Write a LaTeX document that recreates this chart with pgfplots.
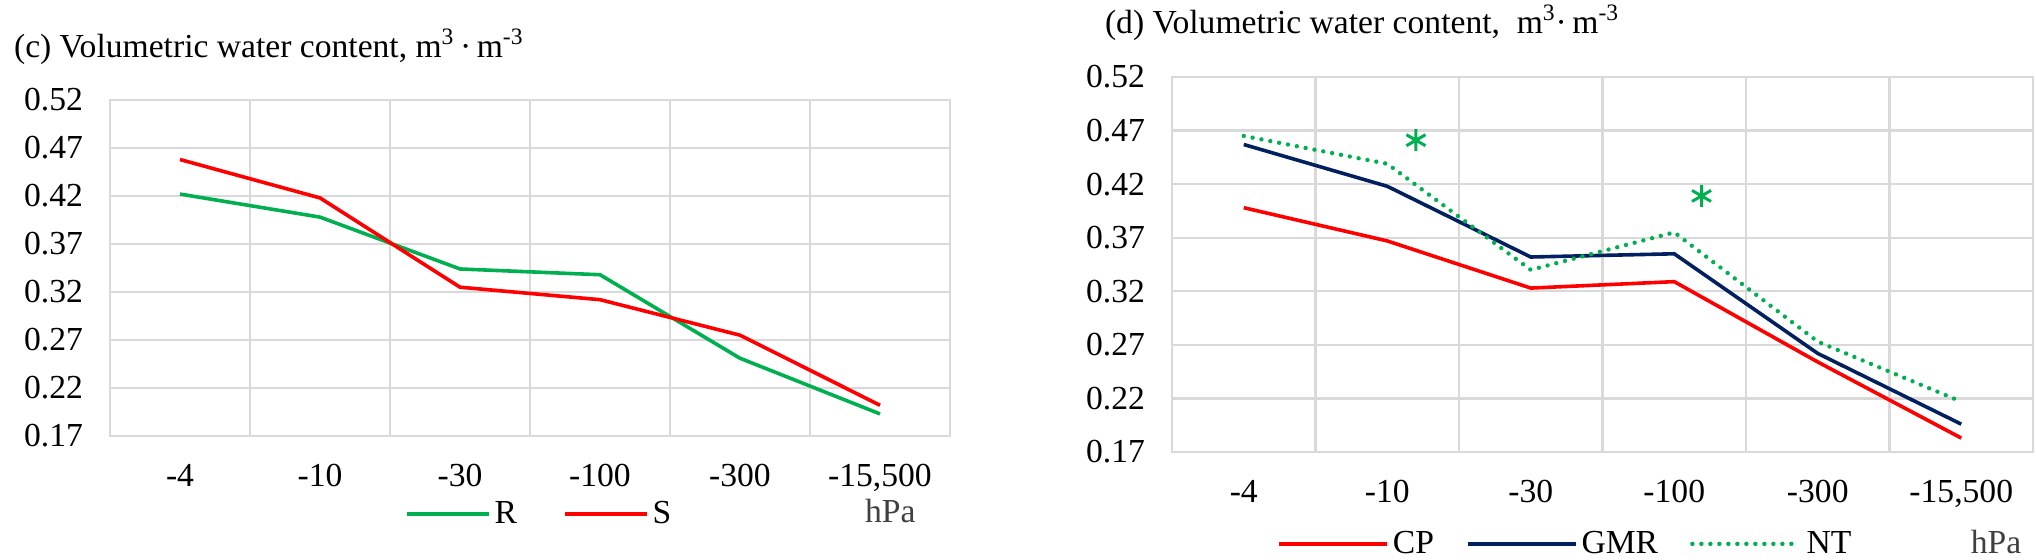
\documentclass[border=0pt]{standalone}
\usepackage{fontspec}
\setmainfont{Liberation Serif}
\usepackage{pgfplots}
\pgfplotsset{compat=1.18}

\definecolor{exgreen}{HTML}{00B050}
\definecolor{exred}{HTML}{FF0000}
\definecolor{exnavy}{HTML}{002060}
\definecolor{exgrid}{HTML}{D9D9D9}
\definecolor{exgray}{HTML}{404040}

\newcommand{\chartfont}{\fontsize{16.8}{20}\selectfont}

\pgfplotsset{
  vwc/.style={
    scale only axis,
    anchor=south west,
    clip=false,
    xmin=-0.5, xmax=5.5,
    ymin=0.17, ymax=0.52,
    xtick={0,...,5},
    xticklabels={-4,-10,-30,-100,-300,{-15,500}},
    minor xtick={0.5,1.5,2.5,3.5,4.5},
    ytick={0.17,0.22,0.27,0.32,0.37,0.42,0.47,0.52},
    yticklabels={0.17,0.22,0.27,0.32,0.37,0.42,0.47,0.52},
    major tick length=0pt, minor tick length=0pt,
    ymajorgrids, xminorgrids,
    grid style={exgrid, line width=1.2pt},
    axis line style={exgrid, line width=1.2pt},
    tick label style={font=\chartfont},
    yticklabel style={xshift=-10pt},
    xticklabel style={anchor=base, yshift=-25pt},
    legend style={draw=none, fill=none, legend columns=-1,
      anchor=center, font=\chartfont},
  },
  legc/.style={legend image code/.code={\draw[##1] (0pt,0pt) -- (41pt,0pt);}},
  legd/.style={legend image code/.code={\draw[##1] (0pt,0pt) -- (54pt,0pt);}},
}

\begin{document}
\begin{tikzpicture}
\useasboundingbox (0,0) rectangle (1018pt,279.5pt);

% (c)
\begin{axis}[vwc,
  at={(55pt,61.5pt)}, width=420pt, height=168pt,
  legend style={at={(0.512,-0.232)},
    /tikz/every even column/.append style={column sep=21pt}}]
  \addlegendimage{exgreen, line width=1.8pt, legc}
  \addlegendentry{R}
  \addlegendimage{exred, line width=1.8pt, legc}
  \addlegendentry{S}
  \addplot[exgreen, line width=1.8pt, forget plot] coordinates {
    (0,0.422) (1,0.398) (2,0.344) (3,0.338) (4,0.251) (5,0.193)};
  \addplot[exred, line width=1.8pt, forget plot] coordinates {
    (0,0.458) (1,0.418) (2,0.325) (3,0.312) (4,0.275) (5,0.202)};
  \node[anchor=west, font=\chartfont] at (rel axis cs:-0.1226,1.158)
    {(c) Volumetric water content, m\textsuperscript{3}\,·\,m\textsuperscript{-3}};
  \node[text=exgray, font=\chartfont] at (rel axis cs:0.929,-0.223) {hPa};
\end{axis}

% (d)
\begin{axis}[vwc,
  at={(586pt,53.5pt)}, width=430.5pt, height=187.5pt,
  legend style={at={(0.458,-0.245)},
    /tikz/every even column/.append style={column sep=14pt}}]
  \addlegendimage{exred, line width=1.8pt, legd}
  \addlegendentry{CP}
  \addlegendimage{exnavy, line width=1.8pt, legd}
  \addlegendentry{GMR}
  \addlegendimage{exgreen, line width=2.2pt, line cap=round, dash pattern=on 0pt off 4.5pt, legd}
  \addlegendentry{NT}
  \addplot[exred, line width=1.8pt, forget plot] coordinates {
    (0,0.398) (1,0.367) (2,0.323) (3,0.329) (4,0.254) (5,0.183)};
  \addplot[exnavy, line width=1.8pt, forget plot] coordinates {
    (0,0.457) (1,0.418) (2,0.352) (3,0.355) (4,0.262) (5,0.196)};
  \addplot[exgreen, line width=2.2pt, line cap=round, dash pattern=on 0pt off 4.5pt, forget plot] coordinates {
    (0,0.465) (1,0.439) (2,0.340) (3,0.375) (4,0.273) (5,0.217)};
  \addplot[exgreen, only marks, mark=asterisk, mark size=5.5pt, line width=1.5pt, forget plot]
    coordinates {(1.2,0.461) (3.19,0.409)};
  \node[anchor=west, font=\chartfont] at (rel axis cs:-0.086,1.144)
    {(d) Volumetric water content,\ \ m\textsuperscript{3}·\,m\textsuperscript{-3}};
  \node[text=exgray, font=\chartfont] at (rel axis cs:0.957,-0.240) {hPa};
\end{axis}
\end{tikzpicture}
\end{document}
